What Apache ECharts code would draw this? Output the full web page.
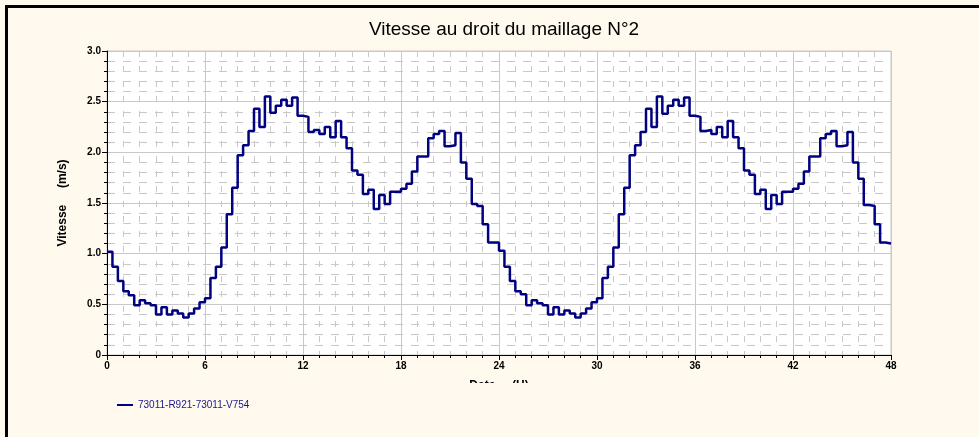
<!DOCTYPE html>
<html>
<head>
<meta charset="utf-8">
<script src="https://cdn.jsdelivr.net/npm/echarts@6/dist/echarts.min.js"></script>
<style>
  html, body { margin:0; padding:0; background:#FFF9EE; }
  #frame { position:absolute; left:5px; top:5px; width:1000px; height:500px; border-left:3px solid #000; border-top:3px solid #000; }
  #chart { position:absolute; left:0; top:0; width:979px; height:437px; }
</style>
</head>
<body>
<div id="frame"></div>
<div id="chart"></div>
<script>
// Time step of the stepped series, in minutes
const stepMinutes = 20;
// Velocity (m/s), day 1 (0 h -> 24 h), one value per 20-minute step
const vitesseJour1 = [
  1.02, 0.87, 0.73, 0.63, 0.59, 0.49, 0.54, 0.51, 0.49, 0.40, 0.47, 0.40,
  0.44, 0.41, 0.37, 0.41, 0.46, 0.52, 0.56, 0.76, 0.87, 1.06, 1.39, 1.65,
  1.97, 2.07, 2.21, 2.43, 2.25, 2.55, 2.39, 2.46, 2.52, 2.46, 2.54, 2.36,
  2.35, 2.20, 2.22, 2.18, 2.25, 2.15, 2.31, 2.15, 2.04, 1.82, 1.78, 1.59,
  1.63, 1.44, 1.58, 1.49, 1.61, 1.61, 1.64, 1.69, 1.81, 1.96, 1.96, 2.14,
  2.18, 2.21, 2.06, 2.07, 2.19, 1.90, 1.74, 1.49, 1.47, 1.29, 1.11, 1.11
];
// Velocity (m/s), day 2 (24 h -> 48 h)
const vitesseJour2 = [
  1.03, 0.87, 0.73, 0.63, 0.60, 0.49, 0.54, 0.51, 0.49, 0.40, 0.47, 0.40,
  0.44, 0.41, 0.37, 0.41, 0.46, 0.52, 0.56, 0.76, 0.87, 1.06, 1.39, 1.65,
  1.97, 2.07, 2.20, 2.43, 2.25, 2.55, 2.38, 2.46, 2.52, 2.46, 2.54, 2.36,
  2.35, 2.21, 2.22, 2.18, 2.25, 2.15, 2.31, 2.15, 2.04, 1.82, 1.78, 1.59,
  1.63, 1.44, 1.58, 1.49, 1.61, 1.61, 1.64, 1.69, 1.81, 1.96, 1.96, 2.14,
  2.18, 2.21, 2.06, 2.07, 2.20, 1.90, 1.74, 1.48, 1.47, 1.29, 1.11, 1.10
];
const seriesName = '73011-R921-73011-V754';
const titleText = 'Vitesse au droit du maillage N°2';
const xAxisName = 'Date     (H)';
const yAxisName = 'Vitesse     (m/s)';

const values = vitesseJour1.concat(vitesseJour2);
const data = values.map((v, i) => [i * stepMinutes / 60, v]);
data.push([values.length * stepMinutes / 60, values[values.length - 1]]);

const chart = echarts.init(document.getElementById('chart'), null, { renderer: 'canvas' });
const gridCol = '#C8C8C8';
const font = "'Liberation Sans', Arial, sans-serif";
chart.setOption({
  animation: false,
  backgroundColor: 'transparent',
  textStyle: { fontFamily: font },
  title: {
    text: titleText, left: 499, top: 15, textAlign: 'center',
    textStyle: { fontSize: 19, fontWeight: 'normal', color: '#000', fontFamily: font }
  },
  legend: {
    left: 112, top: 395, itemWidth: 16, itemHeight: 2, icon: 'rect', itemGap: 10,
    data: [seriesName],
    textStyle: { color: '#1A1A8C', fontSize: 10, fontFamily: font }
  },
  grid: { left: 107, right: 88, top: 51, bottom: 82, show: true, backgroundColor: '#FFFFFF', borderColor: gridCol, borderWidth: 1 },
  xAxis: {
    type: 'value', min: 0, max: 48, interval: 6,
    name: xAxisName, nameLocation: 'middle', nameGap: 25,
    nameTextStyle: { fontWeight: 'bold', fontSize: 12, color: '#000', fontFamily: font },
    axisLine: { lineStyle: { color: '#000', width: 1 } },
    axisTick: { length: 5, lineStyle: { color: '#000' } },
    minorTick: { show: true, splitNumber: 6, length: 3, lineStyle: { color: '#000' } },
    axisLabel: { fontSize: 10, fontWeight: 'bold', color: '#000', margin: 6 },
    splitLine: { show: true, lineStyle: { color: gridCol, width: 1 } },
    minorSplitLine: { show: true, lineStyle: { color: gridCol, width: 1, type: [6, 9] } }
  },
  yAxis: {
    type: 'value', min: 0, max: 3, interval: 0.5,
    name: yAxisName, nameLocation: 'middle', nameGap: 38, nameRotate: 90,
    nameTextStyle: { fontWeight: 'bold', fontSize: 12, color: '#000', fontFamily: font },
    axisLine: { show: true, lineStyle: { color: '#000', width: 1 } },
    axisTick: { show: true, length: 5, lineStyle: { color: '#000' } },
    minorTick: { show: true, splitNumber: 5, length: 3, lineStyle: { color: '#000' } },
    axisLabel: { fontSize: 10, fontWeight: 'bold', color: '#000', margin: 6,
      formatter: v => v === 0 ? '0' : v.toFixed(1) },
    splitLine: { show: true, lineStyle: { color: gridCol, width: 1 } },
    minorSplitLine: { show: true, lineStyle: { color: gridCol, width: 1, type: [8, 8] } }
  },
  graphic: [
    { type: 'rect', z: 100, shape: { x: 380, y: 383, width: 240, height: 12 }, style: { fill: '#FFF9EE' } }
  ],
  series: [{
    name: seriesName, type: 'line', step: 'end', data: data,
    showSymbol: false, symbol: 'none',
    lineStyle: { color: '#000080', width: 2.5 },
    itemStyle: { color: '#000080' }
  }]
});
</script>
</body>
</html>
